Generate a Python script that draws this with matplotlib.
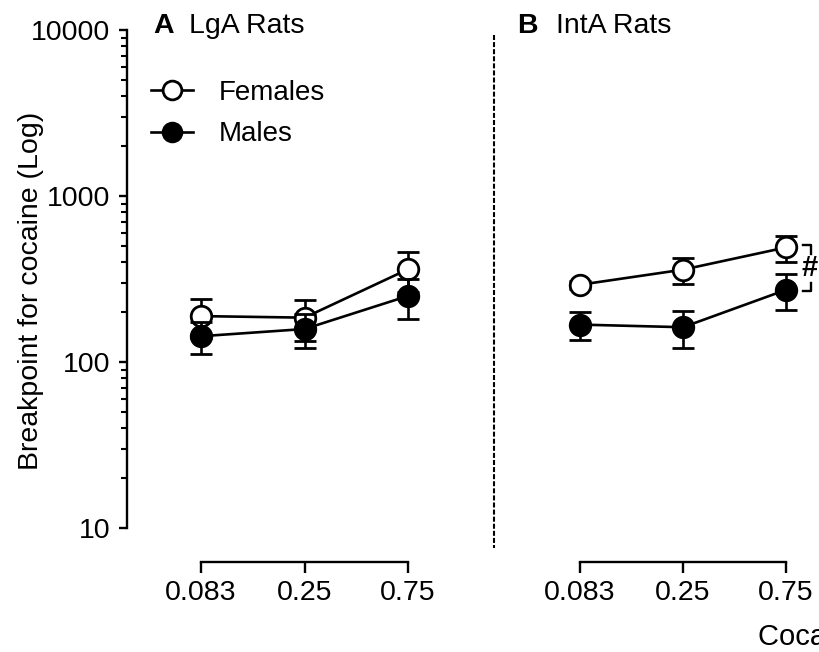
import matplotlib
matplotlib.use("Agg")
import matplotlib.pyplot as plt
from matplotlib.lines import Line2D
from matplotlib.ticker import LogLocator, NullFormatter, FixedLocator, FixedFormatter

plt.rcParams['font.family'] = ['Liberation Sans', 'DejaVu Sans']

doses = ["0.083", "0.25", "0.75"]
lga_fem = [189, 185, 362]
lga_fem_err = [50, 52, 97]
lga_male = [143, 158, 250]
lga_male_err = [31, 37, 68]
inta_fem = [292, 360, 490]
inta_fem_err = [15, 64, 87]
inta_male = [168, 162, 272]
inta_male_err = [33, 40, 65]

W, H = 819, 652
fig = plt.figure(figsize=(W / 100, H / 100), dpi=100)

def fx(x):
    return x / W

def fy(y):
    return 1 - y / H

x0, x1 = -0.715, 2.6
top_px, bot_px = 30, 528
ax_h = (bot_px - top_px) / H
ax1 = fig.add_axes([fx(127), fy(bot_px), (x1 - x0) * 103.5 / W, ax_h])
ax2 = fig.add_axes([fx(580 - 0.715 * 103), fy(bot_px), (x1 - x0) * 103 / W, ax_h])

xs = list(range(len(doses)))
mk = dict(markersize=14.8, markeredgewidth=2.0, lw=1.9, capsize=8.0,
          capthick=1.9, elinewidth=1.9, ecolor='black', color='black')

TICKFS = 20.5
for ax, fem, fe, male, me in [(ax1, lga_fem, lga_fem_err, lga_male, lga_male_err),
                              (ax2, inta_fem, inta_fem_err, inta_male, inta_male_err)]:
    ax.errorbar(xs, fem, yerr=fe, marker='o', markerfacecolor='white',
                markeredgecolor='black', zorder=3, **mk)
    ax.errorbar(xs, male, yerr=me, marker='o', markerfacecolor='black',
                markeredgecolor='black', zorder=4, **mk)
    ax.set_yscale('log')
    ax.set_ylim(10, 10000)
    ax.set_xlim(x0, x1)
    ax.spines['top'].set_visible(False)
    ax.spines['right'].set_visible(False)
    ax.spines['bottom'].set_position(('outward', 24.5))
    ax.spines['bottom'].set_bounds(0, 2)
    ax.spines['bottom'].set_linewidth(1.7)
    ax.set_xticks(xs)
    ax.set_xticklabels(doses, fontsize=TICKFS)
    ax.tick_params(axis='x', length=8, width=1.7, pad=5)
    ax.patch.set_visible(False)

ax1.spines['left'].set_linewidth(1.7)
ax1.spines['left'].set_bounds(10, 10000)
ax1.yaxis.set_major_locator(FixedLocator([10, 100, 1000, 10000]))
ax1.yaxis.set_major_formatter(FixedFormatter(["10", "100", "1000", "10000"]))
ax1.yaxis.set_minor_locator(LogLocator(base=10, subs=range(2, 10)))
ax1.yaxis.set_minor_formatter(NullFormatter())
ax1.tick_params(axis='y', which='major', length=6, width=1.7, labelsize=TICKFS, pad=6)
ax1.tick_params(axis='y', which='minor', length=4, width=1.5)

fig.text(fx(31), fy(291), "Breakpoint for cocaine (Log)", fontsize=20.5, rotation=90,
         ha='center', va='center')

ax2.spines['left'].set_visible(False)
ax2.tick_params(axis='y', which='both', left=False, labelleft=False)

# significance bracket
bx0, bx1 = 2.165, 2.24
ax2.plot([bx0, bx1, bx1], [505, 505, 445], color='black', lw=1.7, clip_on=False)
ax2.plot([bx0, bx1, bx1], [267, 267, 300], color='black', lw=1.7, clip_on=False)
ax2.text(bx0 - 0.01, 367, "#", fontsize=21, fontweight='bold', ha='left', va='center',
         clip_on=False)

# dashed separator
fig.add_artist(Line2D([fx(494), fx(494)], [fy(35), fy(548)], transform=fig.transFigure,
                      color='black', lw=1.5, linestyle=(0, (2.4, 1.0))))

# panel titles
TFS = 20.5
fig.text(fx(153), fy(33), "A", fontsize=TFS, fontweight='bold', va='baseline')
fig.text(fx(189), fy(33), "LgA Rats", fontsize=TFS, va='baseline')
fig.text(fx(517), fy(33), "B", fontsize=TFS, fontweight='bold', va='baseline')
fig.text(fx(556), fy(33), "IntA Rats", fontsize=TFS, va='baseline')

# x label (cut by figure edge)
fig.text(fx(758), fy(637), "Cocaine dose (mg/kg/infusion)", fontsize=21, va='center', ha='left')

# legend
h_f = Line2D([], [], color='black', lw=1.9, marker='o', markersize=13.5,
             markerfacecolor='white', markeredgecolor='black', markeredgewidth=2.0)
h_m = Line2D([], [], color='black', lw=1.9, marker='o', markersize=13.5,
             markerfacecolor='black', markeredgecolor='black', markeredgewidth=2.0)
fig.legend([h_f, h_m], ["Females", "Males"], loc='upper left',
           bbox_to_anchor=(fx(151), fy(80)), frameon=False, fontsize=20,
           handlelength=1.5, handletextpad=0.95, labelspacing=0.55, borderpad=0,
           borderaxespad=0)

fig.savefig("out.png", dpi=100)
